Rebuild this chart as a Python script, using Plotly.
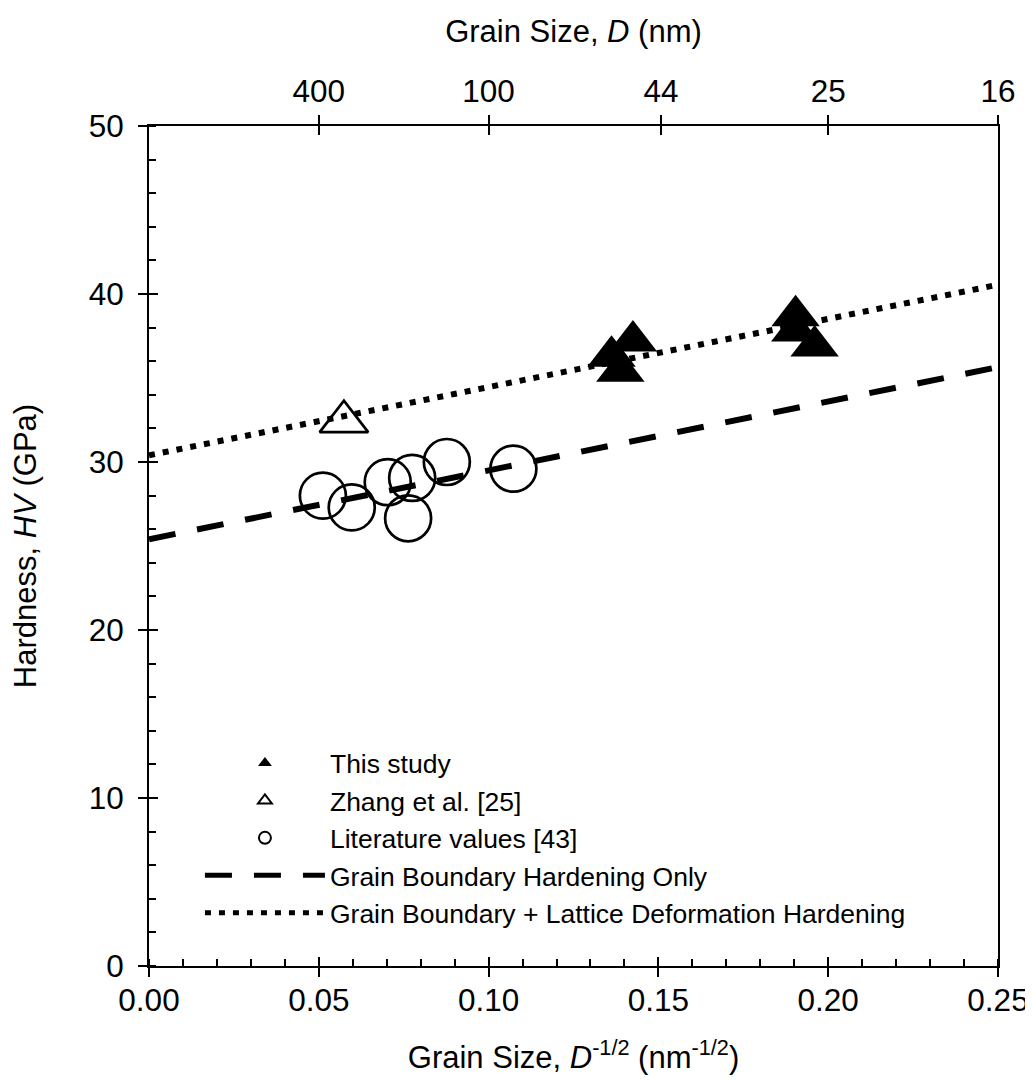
import plotly.graph_objects as go

# ---- data ----
study_x = [0.1362, 0.1425, 0.1388, 0.1904, 0.1903, 0.1960]
study_y = [36.3, 37.2, 35.4, 38.7, 37.8, 36.9]

zhang_x = [0.0574]
zhang_y = [32.4]

lit_x = [0.0512, 0.0597, 0.0703, 0.0775, 0.0763, 0.0877, 0.1073]
lit_y = [28.0, 27.3, 28.8, 29.05, 26.65, 30.0, 29.6]

line_x = [0.0, 0.25]
gb_y = [25.4, 35.65]
gbl_y = [30.4, 40.55]

top_D = [400, 100, 44, 25, 16]
bottom_ticks = [0.0, 0.05, 0.10, 0.15, 0.20, 0.25]

FONT = "Arial, Liberation Sans, sans-serif"
BLACK = "#000000"

fig = go.Figure()

fig.add_trace(go.Scatter(
    x=line_x, y=gb_y, mode="lines", name="Grain Boundary Hardening Only",
    line=dict(color=BLACK, width=6, dash="27px,22px"), legendrank=4))
fig.add_trace(go.Scatter(
    x=line_x, y=gbl_y, mode="lines",
    name="Grain Boundary + Lattice Deformation Hardening",
    line=dict(color=BLACK, width=6, dash="6px,8px"), legendrank=5))

fig.add_trace(go.Scatter(
    x=lit_x, y=lit_y, mode="markers", name="Literature values [43]",
    marker=dict(symbol="circle-open", size=46, color=BLACK,
                line=dict(width=2.7, color=BLACK)), legendrank=3))
fig.add_trace(go.Scatter(
    x=zhang_x, y=zhang_y, mode="markers", name="Zhang et al. [25]",
    marker=dict(symbol="triangle-up-open", size=42, color=BLACK,
                line=dict(width=2.7, color=BLACK)), legendrank=2))
fig.add_trace(go.Scatter(
    x=study_x, y=study_y, mode="markers", name="This study",
    marker=dict(symbol="triangle-up", size=42, color=BLACK,
                line=dict(width=0)), legendrank=1))

# dummy traces so that overlay axes are drawn
fig.add_trace(go.Scatter(x=[None], y=[None], xaxis="x2", yaxis="y", showlegend=False, hoverinfo="skip"))
fig.add_trace(go.Scatter(x=[None], y=[None], xaxis="x3", yaxis="y", showlegend=False, hoverinfo="skip"))
fig.add_trace(go.Scatter(x=[None], y=[None], xaxis="x4", yaxis="y", showlegend=False, hoverinfo="skip"))
fig.add_trace(go.Scatter(x=[None], y=[None], xaxis="x", yaxis="y2", showlegend=False, hoverinfo="skip"))

tickfont = dict(family=FONT, size=31.5, color=BLACK)
titlefont = dict(family=FONT, size=31, color=BLACK)

# page body has an 8px default margin, so the figure is 8px smaller
fig.update_layout(
    width=1025, height=1072,
    margin=dict(l=141, r=35, t=118, b=114, pad=0, autoexpand=False),
    paper_bgcolor="white", plot_bgcolor="white",
    font=dict(family=FONT, color=BLACK),
    xaxis=dict(
        range=[0, 0.25], tickvals=bottom_ticks, tickformat=".2f",
        ticks="outside", ticklen=9, tickwidth=2, tickcolor=BLACK,
        minor=dict(ticks="inside", dtick=0.01, ticklen=7, tickwidth=1.5, tickcolor=BLACK),
        showline=True, linewidth=2, linecolor=BLACK,
        showgrid=False, zeroline=False, tickfont=tickfont,
        ticklabelstandoff=-4, automargin=False,
        title=dict(text="Grain Size, <i>D</i><sup>-1/2</sup> (nm<sup>-1/2</sup>)",
                   font=titlefont, standoff=30),
    ),
    xaxis3=dict(
        range=[0, 0.25], overlaying="x", side="bottom", anchor="y",
        tickvals=bottom_ticks, ticks="inside", ticklen=9, tickwidth=2,
        tickcolor=BLACK, showticklabels=False, showline=False,
        showgrid=False, zeroline=False, automargin=False,
    ),
    xaxis2=dict(
        range=[0, 0.25], overlaying="x", side="top", anchor="y",
        tickvals=[d ** -0.5 for d in top_D], ticktext=[str(d) for d in top_D],
        ticks="outside", ticklen=9, tickwidth=2, tickcolor=BLACK,
        showline=True, linewidth=2, linecolor=BLACK,
        showgrid=False, zeroline=False, tickfont=tickfont,
        ticklabelstandoff=0, automargin=False,
        title=dict(text="Grain Size, <i>D</i> (nm)", font=titlefont, standoff=22),
    ),
    xaxis4=dict(
        range=[0, 0.25], overlaying="x", side="top", anchor="y",
        tickvals=[d ** -0.5 for d in top_D], ticks="inside", ticklen=9,
        tickwidth=2, tickcolor=BLACK, showticklabels=False, showline=False,
        showgrid=False, zeroline=False, automargin=False,
    ),
    yaxis=dict(
        range=[0, 50], dtick=10, ticks="outside", ticklen=9, tickwidth=2,
        tickcolor=BLACK,
        minor=dict(ticks="inside", dtick=2, ticklen=7, tickwidth=1.5, tickcolor=BLACK),
        showline=True, linewidth=2, linecolor=BLACK, mirror=True,
        showgrid=False, zeroline=False, tickfont=tickfont,
        ticklabelstandoff=8, automargin=False,
        title=dict(text="Hardness, <i>HV</i> (GPa)", font=titlefont, standoff=45),
    ),
    yaxis2=dict(
        range=[0, 50], overlaying="y", side="left", anchor="x",
        dtick=10, ticks="inside", ticklen=9, tickwidth=2, tickcolor=BLACK,
        showticklabels=False, showline=False, showgrid=False, zeroline=False,
        automargin=False,
    ),
    legend=dict(
        x=0.060, y=0.27, xanchor="left", yanchor="top",
        bgcolor="rgba(0,0,0,0)", borderwidth=0,
        font=dict(family=FONT, size=26.5, color=BLACK),
        itemwidth=120, itemsizing="constant", tracegroupgap=0,
    ),
    showlegend=True,
)

fig.write_html("out.html")
